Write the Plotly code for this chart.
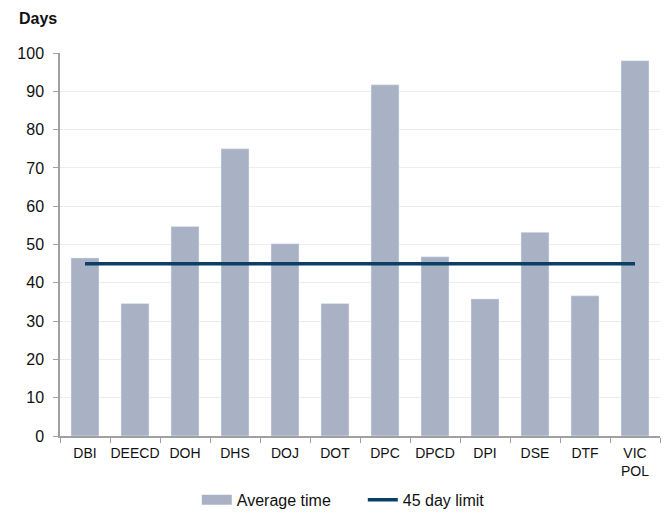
import plotly.graph_objects as go

agencies = ["DBI", "DEECD", "DOH", "DHS", "DOJ", "DOT", "DPC", "DPCD", "DPI", "DSE", "DTF", "VIC<br>POL"]
average_time = [46.5, 34.6, 54.7, 75.0, 50.2, 34.6, 91.7, 46.8, 35.8, 53.2, 36.6, 98.0]
limit = [45] * len(agencies)

bar_color = '#a9b2c5'
line_color = '#0b3f66'

fig = go.Figure()
fig.add_trace(go.Bar(x=agencies, y=average_time,
                     name='Average time', showlegend=False,
                     marker_color=bar_color))
# wide legend swatch for the bars
fig.add_trace(go.Scatter(x=[None], y=[None], mode='lines',
                         name='Average time',
                         line=dict(color=bar_color, width=11)))
fig.add_trace(go.Scatter(x=agencies, y=limit,
                         mode='lines',
                         name='45 day limit',
                         line=dict(color=line_color, width=3.5)))

fig.update_layout(
    width=671, height=528,
    margin=dict(l=52, r=19, t=45, b=100),
    paper_bgcolor='white', plot_bgcolor='white',
    font=dict(family='Liberation Sans, Arial', size=16, color='#111'),
    bargap=0.44,
    showlegend=True,
    legend=dict(orientation='h', x=0.228, xanchor='left', y=-0.167, yanchor='middle',
                font=dict(size=16), entrywidth=121, traceorder='normal'),
    annotations=[dict(text='<b>Days</b>', xref='paper', yref='paper',
                      x=-0.072, y=1.063, xanchor='left', yanchor='bottom',
                      showarrow=False, font=dict(size=16))],
)
fig.update_yaxes(range=[0, 100], dtick=10, showgrid=True, gridcolor='#ececec',
                 showline=True, linecolor='#a0a0a0', linewidth=1.5,
                 ticks='outside', ticklen=5, tickcolor='#a0a0a0', zeroline=False,
                 automargin=False, tickfont=dict(size=16), ticklabelstandoff=6)
fig.update_xaxes(showline=True, linecolor='#a0a0a0', linewidth=1.5,
                 ticks='outside', ticklen=5, tickcolor='#a0a0a0',
                 tickson='boundaries', tickangle=0, automargin=False,
                 tickfont=dict(size=14), ticklabelstandoff=3)

fig.write_html("out.html")
